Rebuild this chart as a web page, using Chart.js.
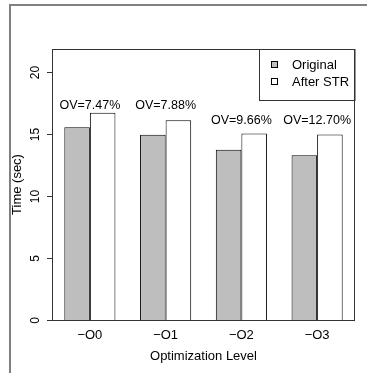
<!DOCTYPE html>
<html>
<head>
<meta charset="utf-8">
<script src="https://cdn.jsdelivr.net/npm/chart.js@4/dist/chart.umd.min.js"></script>
<style>
  html, body { margin: 0; padding: 0; background: #fff; }
  #wrap { width: 367px; height: 373px; position: relative; }
</style>
</head>
<body>
<div id="wrap"><canvas id="timeChart"></canvas></div>
<script>
        // Chart Data
        const levels = ['\u2212O0', '\u2212O1', '\u2212O2', '\u2212O3'];
        const originalTime = [15.55, 14.93, 13.72, 13.28];
        const afterStrTime = [16.70, 16.10, 15.04, 14.96];
        const ovLabels = ['OV=7.47%', 'OV=7.88%', 'OV=9.66%', 'OV=12.70%'];
        const ovLabelY = [17.3, 17.3, 16.05, 16.05];
        const yTicks = [0, 5, 10, 15, 20];

        const font = '"Liberation Sans", Arial, Helvetica, sans-serif';

        // axes, box, labels and legend drawn R-style
        const rStyle = {
            id: 'rStyle',
            beforeDraw(chart) {
                const c = chart.ctx;
                c.save();
                c.strokeStyle = '#808080';
                c.lineWidth = 2;
                c.beginPath();
                c.moveTo(10, 373);
                c.lineTo(10, 5);
                c.lineTo(367, 5);
                c.stroke();
                c.restore();
            },
            afterDatasetsDraw(chart) {
                const c = chart.ctx;
                const a = chart.chartArea;
                const x = chart.scales.x;
                const y = chart.scales.y;
                c.save();

                // plot box
                c.strokeStyle = '#333';
                c.lineWidth = 1;
                c.strokeRect(a.left + 0.5, a.top + 0.5, a.right - a.left - 1, a.bottom - a.top);

                // y ticks
                c.fillStyle = '#000';
                c.font = '12px ' + font;
                c.textAlign = 'center';
                c.textBaseline = 'middle';
                yTicks.forEach(v => {
                    const py = Math.round(y.getPixelForValue(v)) + 0.5;
                    c.beginPath();
                    c.moveTo(a.left - 5, py);
                    c.lineTo(a.left, py);
                    c.stroke();
                    c.save();
                    c.translate(36, py);
                    c.rotate(-Math.PI / 2);
                    c.fillText(String(v), 0, 0);
                    c.restore();
                });

                // y title
                c.font = '13px ' + font;
                c.save();
                c.translate(17, (a.top + a.bottom) / 2);
                c.rotate(-Math.PI / 2);
                c.fillText('Time (sec)', 0, 0);
                c.restore();

                // x labels
                levels.forEach((l, i) => {
                    c.fillText(l, x.getPixelForValue(i), 335);
                });
                c.fillText('Optimization Level', (a.left + a.right) / 2, 356);

                // overhead labels
                c.font = '12.5px ' + font;
                ovLabels.forEach((t, i) => {
                    c.fillText(t, x.getPixelForValue(i), y.getPixelForValue(ovLabelY[i]));
                });

                // legend
                const lx = 259, ly = a.top, lw = a.right - lx, lh = 51;
                c.strokeStyle = '#333';
                c.strokeRect(lx + 0.5, ly + 0.5, lw - 0.5, lh);
                c.font = '13px ' + font;
                c.textAlign = 'left';
                chart.data.datasets.forEach((ds, i) => {
                    const cy = ly + 16 + i * 17;
                    c.fillStyle = ds.backgroundColor;
                    c.fillRect(271.5, cy - 3.5, 6, 6);
                    c.strokeStyle = '#000';
                    c.strokeRect(271.5, cy - 3.5, 6, 6);
                    c.fillStyle = '#000';
                    c.fillText(ds.label, 292, cy);
                });
                c.restore();
            }
        };

        const ctx = document.getElementById('timeChart').getContext('2d');
        new Chart(ctx, {
            type: 'bar',
            data: {
                labels: levels,
                datasets: [{
                    label: 'Original',
                    data: originalTime,
                    backgroundColor: '#bebebe',
                    borderColor: '#000',
                    borderWidth: 1,
                    categoryPercentage: 0.675,
                    barPercentage: 1.0
                }, {
                    label: 'After STR',
                    data: afterStrTime,
                    backgroundColor: '#ffffff',
                    borderColor: '#000',
                    borderWidth: 1,
                    categoryPercentage: 0.675,
                    barPercentage: 1.0
                }]
            },
            options: {
                responsive: true,
                maintainAspectRatio: false,
                animation: false,
                layout: {
                    padding: { left: 52, top: 49, right: 12, bottom: 53 }
                },
                plugins: {
                    legend: { display: false },
                    tooltip: { enabled: false }
                },
                scales: {
                    x: {
                        display: false
                    },
                    y: {
                        display: false,
                        min: 0,
                        max: 21.85
                    }
                }
            },
            plugins: [rStyle]
        });
</script>
</body>
</html>
